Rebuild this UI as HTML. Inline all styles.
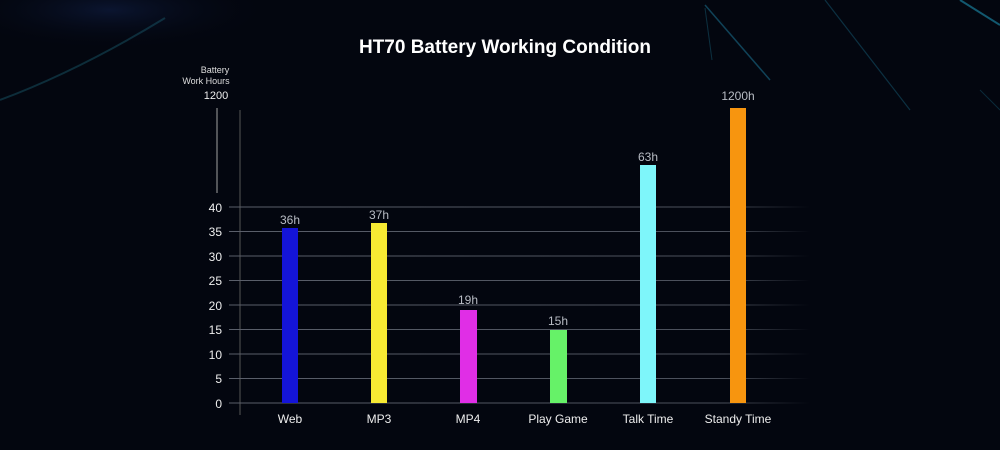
<!DOCTYPE html>
<html><head><meta charset="utf-8"><style>
html,body{margin:0;padding:0;background:#03060f;}
svg{display:block;}
text{font-family:"Liberation Sans",sans-serif;}
</style></head><body>
<svg width="1000" height="450" viewBox="0 0 1000 450" xmlns="http://www.w3.org/2000/svg">
<defs>
<linearGradient id="gf" gradientUnits="userSpaceOnUse" x1="229" y1="0" x2="810" y2="0">
<stop offset="0" stop-color="#5a5f6a"/><stop offset="0.85" stop-color="#4a4f5a"/><stop offset="1" stop-color="#4a4f5a" stop-opacity="0"/>
</linearGradient>
<radialGradient id="bg1" cx="0.5" cy="0.5" r="0.5"><stop offset="0" stop-color="#0b1530"/><stop offset="1" stop-color="#03060f" stop-opacity="0"/></radialGradient>
</defs>
<rect width="1000" height="450" fill="#03060f"/>
<ellipse cx="110" cy="10" rx="160" ry="40" fill="url(#bg1)"/>
<path d="M0 100 Q80 70 165 18" stroke="#1b5d6e" stroke-width="2" fill="none" opacity="0.45"/>
<line x1="705" y1="5" x2="770" y2="80" stroke="#1d7fa0" stroke-width="1.5" opacity="0.5"/>
<line x1="825" y1="0" x2="910" y2="110" stroke="#1d7fa0" stroke-width="1.2" opacity="0.35"/>
<line x1="960" y1="0" x2="1000" y2="25" stroke="#1d8fb0" stroke-width="2" opacity="0.6"/>
<line x1="705" y1="8" x2="712" y2="60" stroke="#1a6f8a" stroke-width="1" opacity="0.4"/>
<line x1="980" y1="90" x2="1000" y2="110" stroke="#1a6f8a" stroke-width="1" opacity="0.35"/>
<text x="505" y="53" text-anchor="middle" fill="#fff" font-size="19" font-weight="bold">HT70 Battery Working Condition</text>
<text x="215" y="73" text-anchor="middle" fill="#ddd" font-size="9">Battery</text>
<text x="206" y="84" text-anchor="middle" fill="#ddd" font-size="9">Work Hours</text>
<text x="216" y="99" text-anchor="middle" fill="#eee" font-size="11">1200</text>
<line x1="217" y1="108" x2="217" y2="193" stroke="#888" stroke-width="1.2"/>
<line x1="240" y1="110" x2="240" y2="415" stroke="#555" stroke-width="1"/>
<g stroke="url(#gf)" stroke-width="1">
<line x1="229" y1="207" x2="810" y2="207"/>
<line x1="229" y1="231.5" x2="810" y2="231.5"/>
<line x1="229" y1="256" x2="810" y2="256"/>
<line x1="229" y1="280.5" x2="810" y2="280.5"/>
<line x1="229" y1="305" x2="810" y2="305"/>
<line x1="229" y1="329.5" x2="810" y2="329.5"/>
<line x1="229" y1="354" x2="810" y2="354"/>
<line x1="229" y1="378.5" x2="810" y2="378.5"/>
<line x1="229" y1="403" x2="810" y2="403"/>
</g>
<g fill="#eee" font-size="12" text-anchor="end">
<text x="222" y="212">40</text><text x="222" y="236">35</text><text x="222" y="261">30</text>
<text x="222" y="285">25</text><text x="222" y="310">20</text><text x="222" y="334">15</text>
<text x="222" y="359">10</text><text x="222" y="383">5</text><text x="222" y="408">0</text>
</g>
<rect x="282" y="228" width="16" height="175" fill="#1414d8"/>
<rect x="371" y="223" width="16" height="180" fill="#f7ea33"/>
<rect x="460" y="310" width="17" height="93" fill="#e02ee6"/>
<rect x="550" y="330" width="17" height="73" fill="#66f268"/>
<rect x="640" y="165" width="16" height="238" fill="#7ef6fa"/>
<rect x="730" y="108" width="16" height="295" fill="#f7950f"/>
<g fill="#b8bcc4" font-size="12" text-anchor="middle">
<text x="290" y="224">36h</text><text x="379" y="219">37h</text><text x="468" y="304">19h</text>
<text x="558" y="325">15h</text><text x="648" y="161">63h</text><text x="738" y="100">1200h</text>
</g>
<g fill="#eee" font-size="12" text-anchor="middle">
<text x="290" y="423">Web</text><text x="379" y="423">MP3</text><text x="468" y="423">MP4</text>
<text x="558" y="423">Play Game</text><text x="648" y="423">Talk Time</text><text x="738" y="423">Standy Time</text>
</g>
</svg>
</body></html>
